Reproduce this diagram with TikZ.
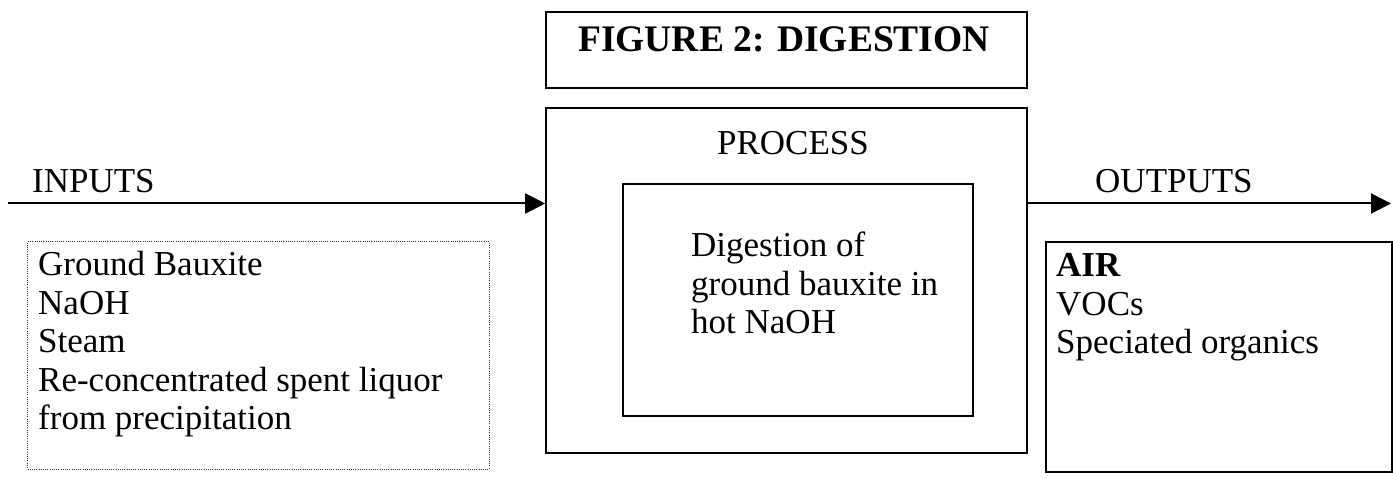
\documentclass[tikz,border=0pt]{standalone}
\usepackage{fontspec}
\setmainfont{Liberation Serif}
\usetikzlibrary{arrows.meta}
\newcommand\mytxt{\fontsize{35}{38.5}\selectfont}
\newcommand\mytitle{\fontsize{37.5}{44}\selectfont\bfseries}
\begin{document}
\begin{tikzpicture}[x=1pt,y=-1pt,
  boxsolid/.style={draw, line width=1.6pt, inner sep=0pt},
  boxdot/.style={draw, line width=1pt, dash pattern=on 1pt off 1.2pt, draw=black!80, inner sep=0pt},
  lbl/.style={inner sep=0pt, font=\mytxt},
  flow/.style={line width=2pt, -{Triangle[length=20pt,width=20pt]}}
]
\useasboundingbox (0,0) rectangle (1393,478);
% boxes
\node (titlebox) [boxsolid, minimum width=481pt, minimum height=76pt] at (786.5,50) {};
\node (proc) [boxsolid, minimum width=481pt, minimum height=345pt] at (786.5,280.5) {};
\node (inner) [boxsolid, minimum width=350pt, minimum height=232pt] at (798,300) {};
\node (inbox) [boxdot, minimum width=461.5pt, minimum height=227pt] at (258.25,355.5) {};
\node (outbox) [boxsolid, minimum width=346pt, minimum height=230pt] at (1219,357) {};
% texts
\node (title) [inner sep=0pt, anchor=base, font=\mytitle] at (784,52) {FIGURE 2: DIGESTION};
\node (proclbl) [lbl, anchor=base] at (793,155) {PROCESS};
\node (innertxt) [lbl, anchor=base west] at (691,257) {\begin{tabular}[t]{@{}l@{}}Digestion of\\ ground bauxite in\\ hot NaOH\end{tabular}};
\node (inlbl) [lbl, anchor=base west] at (32,193) {INPUTS};
\node (intxt) [lbl, anchor=base west] at (38,276) {\begin{tabular}[t]{@{}l@{}}Ground Bauxite\\ NaOH\\ Steam\\ Re-concentrated spent liquor\\ from precipitation\end{tabular}};
\node (outlbl) [lbl, anchor=base west] at (1095,193) {OUTPUTS};
\node (outtxt) [lbl, anchor=base west] at (1056,277) {\begin{tabular}[t]{@{}l@{}}\textbf{AIR}\\ VOCs\\ Speciated organics\end{tabular}};
% connectors
\coordinate (instart) at (8,203.5);
\coordinate (outend) at (1391,203.5);
\draw[flow] (instart) -- (instart -| proc.west);
\draw[flow] (outend -| proc.east) -- (outend);
\end{tikzpicture}
\end{document}
